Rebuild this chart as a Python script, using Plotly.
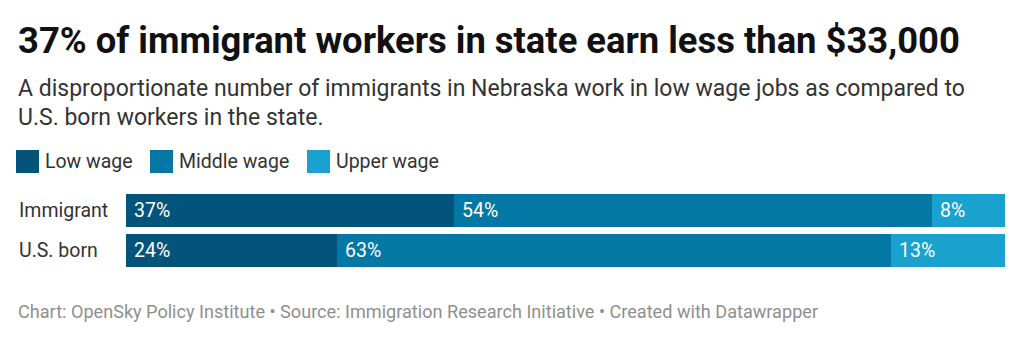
import plotly.graph_objects as go

# ---- data ----
categories = ["Immigrant", "U.S. born"]
series_names = ["Low wage", "Middle wage", "Upper wage"]
low_wage = [37.3, 24.0]
middle_wage = [54.4, 63.0]
upper_wage = [8.3, 13.0]
low_labels = ["37%", "24%"]
middle_labels = ["54%", "63%"]
upper_labels = ["8%", "13%"]

title = "37% of immigrant workers in state earn less than $33,000"
subtitle_lines = [
    "A disproportionate number of immigrants in Nebraska work in low wage jobs as compared to",
    "U.S. born workers in the state.",
]
footer = "Chart: OpenSky Policy Institute • Source: Immigration Research Initiative • Created with Datawrapper"

colors = ["#02547b", "#0378a4", "#1aa2cf"]
FONT = "Roboto"

W, H = 1024, 340
ML, MR, MT, MB = 126, 19, 190, 70
PW = W - ML - MR
PH = H - MT - MB

def px_x(x):
    return (x - ML) / PW

def px_y(y):
    return (H - MB - y) / PH

fig = go.Figure()
values = [low_wage, middle_wage, upper_wage]
labels = [low_labels, middle_labels, upper_labels]
for name, vals, col in zip(series_names, values, colors):
    fig.add_trace(go.Bar(
        y=categories, x=vals, name=name, orientation="h",
        marker=dict(color=col, line=dict(width=0)),
        showlegend=False, hoverinfo="skip",
    ))

annotations = []
# value labels inside bars
for i, cat in enumerate(categories):
    base = 0.0
    for vals, labs in zip(values, labels):
        annotations.append(dict(
            x=base, y=cat, xref="x", yref="y", text=labs[i],
            showarrow=False, xanchor="left", yanchor="middle", xshift=6,
            font=dict(family=FONT, size=19.5, color="#ffffff"),
        ))
        base += vals[i]

# category labels (left-aligned)
for cat in categories:
    annotations.append(dict(
        x=px_x(17), y=cat, xref="paper", yref="y", text=cat,
        showarrow=False, xanchor="left", yanchor="middle",
        font=dict(family=FONT, size=19.5, color="#333333"),
    ))

# title / subtitle / footer
annotations.append(dict(
    x=px_x(16), y=px_y(40), xref="paper", yref="paper", text="<b>" + title + "</b>",
    showarrow=False, xanchor="left", yanchor="middle",
    font=dict(family=FONT, size=36.4, color="#111111"),
))
for k, line in enumerate(subtitle_lines):
    annotations.append(dict(
        x=px_x(16), y=px_y(88 + 29 * k), xref="paper", yref="paper", text=line,
        showarrow=False, xanchor="left", yanchor="middle",
        font=dict(family=FONT, size=23, color="#333333"),
    ))
annotations.append(dict(
    x=px_x(16), y=px_y(311), xref="paper", yref="paper", text=footer,
    showarrow=False, xanchor="left", yanchor="middle",
    font=dict(family=FONT, size=18.1, color="#8f8f8f"),
))

# custom legend
shapes = []
leg_x = [16, 150, 307]
for name, col, lx in zip(series_names, colors, leg_x):
    shapes.append(dict(
        type="rect", xref="paper", yref="paper",
        x0=px_x(lx), x1=px_x(lx + 23), y0=px_y(173), y1=px_y(150),
        fillcolor=col, line=dict(width=0),
    ))
    annotations.append(dict(
        x=px_x(lx + 27), y=px_y(161), xref="paper", yref="paper", text=name,
        showarrow=False, xanchor="left", yanchor="middle",
        font=dict(family=FONT, size=19.5, color="#333333"),
    ))

fig.update_layout(
    width=W, height=H,
    margin=dict(l=ML, r=MR, t=MT, b=MB),
    barmode="stack", bargap=0.175,
    plot_bgcolor="white", paper_bgcolor="white",
    xaxis=dict(range=[0, 100], visible=False, fixedrange=True),
    yaxis=dict(categoryorder="array", categoryarray=categories, autorange="reversed",
               showticklabels=False, showgrid=False, zeroline=False, fixedrange=True),
    annotations=annotations, shapes=shapes,
    font=dict(family=FONT),
)

fig.write_html("out.html", config={"displayModeBar": False})
